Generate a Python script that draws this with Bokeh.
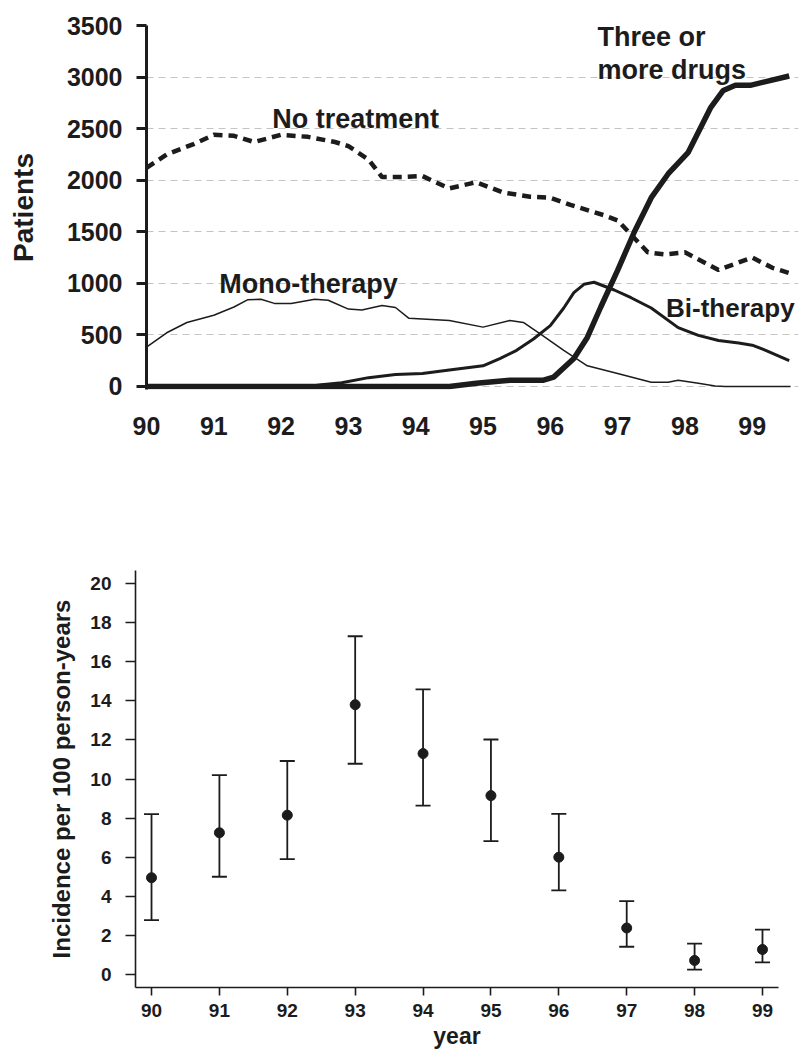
from bokeh.plotting import figure
from bokeh.layouts import column, row
from bokeh.models import Range1d, FixedTicker, Label, Whisker, ColumnDataSource, TeeHead, Spacer
from bokeh.embed import file_html
from bokeh.resources import INLINE

# ---------------- data: top chart (patients by treatment) ----------------
year_ticks = [90, 91, 92, 93, 94, 95, 96, 97, 98, 99]
patient_ticks = [0, 500, 1000, 1500, 2000, 2500, 3000, 3500]

no_treat_x = [90.0, 90.3, 90.7, 91.0, 91.3, 91.6, 92.0, 92.4, 92.8, 93.0, 93.3, 93.5,
              93.8, 94.1, 94.5, 94.9, 95.3, 95.7, 96.0, 96.3, 96.8, 97.0, 97.45,
              97.7, 98.0, 98.5, 99.0, 99.3, 99.55]
no_treat_y = [2120, 2250, 2350, 2440, 2430, 2370, 2440, 2420, 2370, 2330, 2200, 2030,
              2030, 2040, 1920, 1980, 1880, 1840, 1830, 1760, 1660, 1610, 1300,
              1280, 1300, 1130, 1250, 1150, 1100]

mono_x = [90.0, 90.3, 90.6, 91.0, 91.3, 91.5, 91.7, 91.9, 92.15, 92.5, 92.7, 93.0,
          93.2, 93.5, 93.7, 93.9, 94.5, 95.0, 95.4, 95.6, 95.85, 96.2, 96.55, 97.0,
          97.5, 97.75, 97.9, 98.2, 98.45, 98.6, 99.57]
mono_y = [380, 520, 620, 690, 770, 840, 845, 805, 805, 845, 835, 750,
          740, 785, 765, 660, 640, 575, 640, 620, 510, 350, 200, 125,
          40, 40, 60, 30, 5, 0, 0]

bi_x = [90.0, 92.4, 92.6, 92.9, 93.3, 93.7, 94.1, 94.5, 95.0, 95.25, 95.5, 95.75,
        96.0, 96.2, 96.35, 96.5, 96.65, 96.95, 97.2, 97.5, 97.9, 98.2, 98.5,
        98.8, 99.0, 99.2, 99.55]
bi_y = [0, 0, 15, 35, 85, 115, 125, 160, 200, 270, 350, 460,
        590, 760, 910, 990, 1010, 935, 860, 760, 570, 495, 445,
        420, 400, 350, 250]

three_x = [90.0, 94.5, 94.9, 95.4, 95.9, 96.05, 96.35, 96.55, 96.75, 97.0, 97.25,
           97.5, 97.75, 98.05, 98.38, 98.57, 98.75, 98.97, 99.55]
three_y = [0, 0, 30, 60, 60, 90, 270, 475, 770, 1125, 1500,
           1830, 2060, 2270, 2700, 2870, 2920, 2920, 3010]

# ---------------- data: bottom chart (incidence) ----------------
inc_year = [90, 91, 92, 93, 94, 95, 96, 97, 98, 99]
inc_rate = [4.95, 7.25, 8.15, 13.8, 11.3, 9.15, 6.0, 2.38, 0.72, 1.28]
inc_upper = [8.2, 10.2, 10.92, 17.3, 14.58, 12.02, 8.22, 3.75, 1.58, 2.3]
inc_lower = [2.78, 5.0, 5.9, 10.78, 8.64, 6.82, 4.3, 1.42, 0.25, 0.62]
inc_ticks = [0, 2, 4, 6, 8, 10, 12, 14, 16, 18, 20]

FONT = "Liberation Sans"
INK = "#1c1c1c"

# ---------------- top figure ----------------
p1 = figure(width=795, height=444, x_range=Range1d(90, 99.688), y_range=Range1d(-30, 3500),
            output_backend="svg", toolbar_location=None,
            min_border_left=142, min_border_right=1, min_border_top=25, min_border_bottom=55)
p1.outline_line_color = None
p1.xgrid.grid_line_color = None
p1.ygrid.grid_line_color = "#c4c4c4"
p1.ygrid.grid_line_dash = "7 5"
p1.ygrid.grid_line_width = 1
p1.ygrid.ticker = FixedTicker(ticks=patient_ticks)

p1.xaxis.ticker = FixedTicker(ticks=year_ticks)
p1.xaxis.axis_line_color = None
p1.xaxis.major_tick_line_color = None
p1.xaxis.minor_tick_line_color = None
p1.xaxis.major_label_standoff = 21
p1.xaxis.major_label_text_font = FONT
p1.xaxis.major_label_text_font_style = "bold"
p1.xaxis.major_label_text_font_size = "25px"
p1.xaxis.major_label_text_color = INK

p1.yaxis.ticker = FixedTicker(ticks=patient_ticks)
p1.yaxis.axis_line_width = 3
p1.yaxis.axis_line_color = INK
p1.yaxis.major_tick_line_width = 3
p1.yaxis.major_tick_line_color = INK
p1.yaxis.major_tick_out = 10
p1.yaxis.major_tick_in = 0
p1.yaxis.minor_tick_line_color = None
p1.yaxis.major_label_standoff = 14
p1.yaxis.major_label_text_font = FONT
p1.yaxis.major_label_text_font_style = "bold"
p1.yaxis.major_label_text_font_size = "25px"
p1.yaxis.major_label_text_color = INK
p1.yaxis.axis_label = "Patients"
p1.yaxis.axis_label_text_font = FONT
p1.yaxis.axis_label_text_font_style = "bold"
p1.yaxis.axis_label_text_font_size = "28px"
p1.yaxis.axis_label_text_color = INK
p1.yaxis.axis_label_standoff = 25

p1.line(mono_x, mono_y, line_color=INK, line_width=1.5)
p1.line(bi_x, bi_y, line_color=INK, line_width=3)
p1.line(no_treat_x, no_treat_y, line_color=INK, line_width=4.5, line_dash="9 6")
p1.line(three_x, three_y, line_color=INK, line_width=5.5)

def note(p, x, y, t, size="27px"):
    p.add_layout(Label(x=x, y=y, text=t, text_font=FONT, text_font_style="bold",
                       text_font_size=size, text_color=INK, text_baseline="alphabetic",
                       text_align="left"))

note(p1, 91.87, 2597, "No treatment")
note(p1, 91.08, 997, "Mono-therapy")
note(p1, 97.72, 762, "Bi-therapy", size="26px")
note(p1, 96.70, 3384, "Three or")
note(p1, 96.70, 3064, "more drugs")

# ---------------- bottom figure ----------------
p2 = figure(width=784, height=607, x_range=Range1d(89.764, 99.236), y_range=Range1d(-0.663, 20.663),
            output_backend="svg", toolbar_location=None,
            min_border_left=135, min_border_right=6, min_border_top=126, min_border_bottom=63)
p2.outline_line_color = None
p2.grid.grid_line_color = None

for ax in (p2.xaxis, p2.yaxis):
    ax.axis_line_width = 1.6
    ax.axis_line_color = INK
    ax.major_tick_line_width = 1.6
    ax.major_tick_line_color = INK
    ax.major_tick_in = 0
    ax.minor_tick_line_color = None
    ax.major_label_text_font = FONT
    ax.major_label_text_font_style = "bold"
    ax.major_label_text_font_size = "19px"
    ax.major_label_text_color = INK
    ax.axis_label_text_font = FONT
    ax.axis_label_text_font_style = "bold"
    ax.axis_label_text_color = INK

p2.xaxis.ticker = FixedTicker(ticks=inc_year)
p2.xaxis.major_tick_out = 8
p2.xaxis.major_label_standoff = 8
p2.xaxis.axis_label = "year"
p2.xaxis.axis_label_text_font_size = "23px"
p2.xaxis.axis_label_standoff = 3

p2.yaxis.ticker = FixedTicker(ticks=inc_ticks)
p2.yaxis.major_tick_out = 10
p2.yaxis.major_label_standoff = 14
p2.yaxis.axis_label = "Incidence per 100 person-years"
p2.yaxis.axis_label_text_font_size = "24px"
p2.yaxis.axis_label_standoff = 12

src = ColumnDataSource(dict(x=inc_year, y=inc_rate, upper=inc_upper, lower=inc_lower))
p2.add_layout(Whisker(base="x", upper="upper", lower="lower", source=src,
                      line_color=INK, line_width=1.8,
                      upper_head=TeeHead(size=15, line_width=1.8, line_color=INK),
                      lower_head=TeeHead(size=15, line_width=1.8, line_color=INK)))
p2.scatter("x", "y", source=src, size=10, fill_color=INK, line_color=INK, marker="circle")

layout = column(row(Spacer(width=4, height=444), p1), p2, spacing=0)
open("out.html", "w").write(file_html(layout, INLINE))
